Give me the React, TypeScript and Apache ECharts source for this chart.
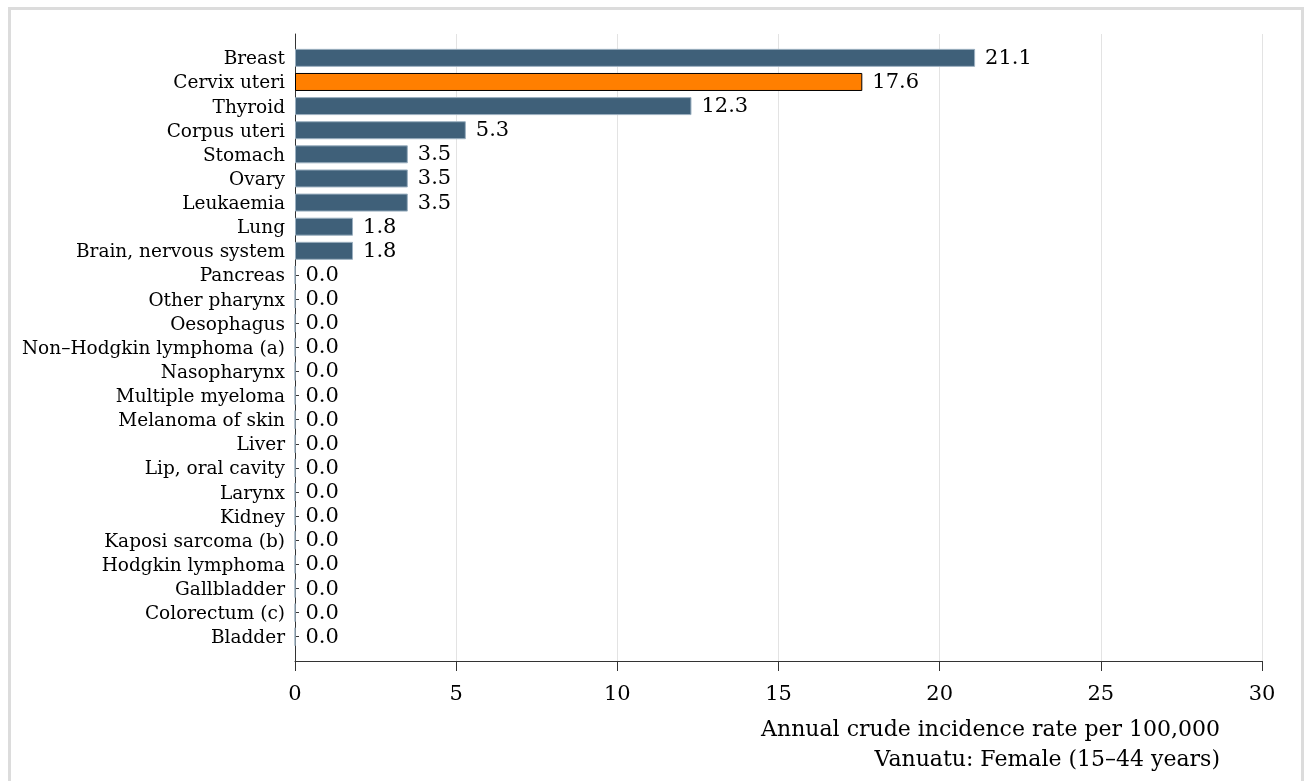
import React, { useEffect, useRef } from "react";
import * as echarts from "echarts";

const categories = [
  "Breast",
  "Cervix uteri",
  "Thyroid",
  "Corpus uteri",
  "Stomach",
  "Ovary",
  "Leukaemia",
  "Lung",
  "Brain, nervous system",
  "Pancreas",
  "Other pharynx",
  "Oesophagus",
  "Non–Hodgkin lymphoma (a)",
  "Nasopharynx",
  "Multiple myeloma",
  "Melanoma of skin",
  "Liver",
  "Lip, oral cavity",
  "Larynx",
  "Kidney",
  "Kaposi sarcoma (b)",
  "Hodgkin lymphoma",
  "Gallbladder",
  "Colorectum (c)",
  "Bladder",
];

const rates = [
  21.1, 17.6, 12.3, 5.3, 3.5, 3.5, 3.5, 1.8, 1.8, 0, 0, 0, 0, 0, 0, 0, 0, 0, 0,
  0, 0, 0, 0, 0, 0,
];

const highlighted = ["Cervix uteri"];

const xMin = 0;
const xMax = 30;
const xStep = 5;

const axisTitle = "Annual crude incidence rate per 100,000";
const subTitle = "Vanuatu: Female (15–44 years)";

const FONT = '"DejaVu Serif", serif';

export default function App() {
  const ref = useRef<HTMLDivElement>(null);

  useEffect(() => {
    if (!ref.current) return;
    const chart = echarts.init(ref.current, undefined, { renderer: "svg" });

    const data = rates.map((v, i) =>
      highlighted.includes(categories[i])
        ? {
            value: v,
            itemStyle: { color: "#ff7f00", borderColor: "#000", borderWidth: 1 },
          }
        : { value: v }
    );

    chart.setOption({
      animation: false,
      textStyle: { fontFamily: FONT },
      grid: [
        { left: 295, top: 34, width: 967, height: 627 },
        { left: 295, top: 45.8, width: 967, height: 603 },
      ],
      xAxis: [
        {
          gridIndex: 0,
          type: "value",
          min: xMin,
          max: xMax,
          interval: xStep,
          axisLine: { show: true, lineStyle: { color: "#333", width: 1 } },
          axisTick: { show: true, length: 10, lineStyle: { color: "#333" } },
          axisLabel: { fontSize: 21, color: "#000", margin: 21, fontFamily: FONT },
          splitLine: { show: true, lineStyle: { color: "#e3e3e3", width: 1 } },
        },
        { gridIndex: 1, type: "value", min: xMin, max: xMax, show: false },
      ],
      yAxis: [
        {
          gridIndex: 0,
          type: "value",
          min: 0,
          max: 1,
          axisLine: { show: true, lineStyle: { color: "#333", width: 1 } },
          axisTick: { show: false },
          axisLabel: { show: false },
          splitLine: { show: false },
        },
        {
          gridIndex: 1,
          type: "category",
          data: categories,
          inverse: true,
          axisLine: { show: false },
          axisTick: {
            show: true,
            inside: true,
            length: 4,
            alignWithLabel: true,
            interval: 0,
            lineStyle: { color: "#333" },
          },
          axisLabel: {
            interval: 0,
            fontSize: 18.5,
            color: "#000",
            margin: 10,
            fontFamily: FONT,
          },
        },
      ],
      series: [
        {
          type: "bar",
          xAxisIndex: 1,
          yAxisIndex: 1,
          data,
          barWidth: 18,
          itemStyle: { color: "#3f6079", borderColor: "#9cb0c0", borderWidth: 1 },
          label: {
            show: true,
            position: "right",
            distance: 10,
            fontSize: 21,
            color: "#000",
            fontFamily: FONT,
            offset: [0, -1],
            formatter: (p: any) => Number(p.value).toFixed(1),
          },
        },
      ],
      graphic: [
        {
          type: "text",
          x: 1220,
          y: 728,
          style: {
            text: axisTitle,
            textAlign: "right",
            textVerticalAlign: "middle",
            font: `22px ${FONT}`,
            fill: "#000",
          },
        },
        {
          type: "text",
          x: 1220,
          y: 758,
          style: {
            text: subTitle,
            textAlign: "right",
            textVerticalAlign: "middle",
            font: `22px ${FONT}`,
            fill: "#000",
          },
        },
      ],
    });

    return () => chart.dispose();
  }, []);

  return (
    <>
      <div
        style={{
          position: "fixed",
          left: 8,
          top: 7,
          width: 1296,
          height: 774,
          boxSizing: "border-box",
          borderTop: "3px solid #dcdcdc",
          borderLeft: "3px solid #dcdcdc",
          borderRight: "3px solid #dcdcdc",
        }}
      />
      <div
        ref={ref}
        style={{ position: "fixed", left: 0, top: 0, width: 1304, height: 781 }}
      />
    </>
  );
}
